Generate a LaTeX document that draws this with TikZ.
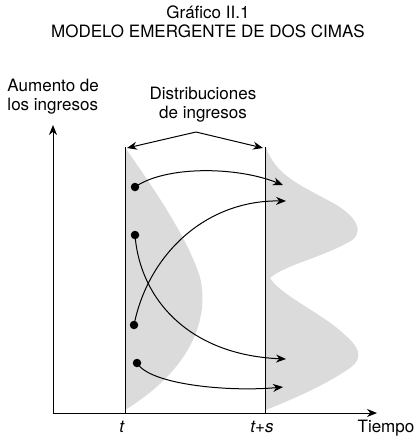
\documentclass[tikz,border=0pt]{standalone}
\usepackage{fontspec}
\setmainfont{TeX Gyre Heros}
\usetikzlibrary{arrows.meta,positioning}

\begin{document}
\begin{tikzpicture}[x=1pt, y=-1pt, >={Stealth[length=10pt,width=8pt]}, line width=1pt, font=\fontsize{17}{19}\selectfont]
	\tikzstyle{dot}=[circle, fill=black, inner sep=0pt, minimum size=8.5pt]
	\tikzstyle{lbl}=[inner sep=0pt, align=center]
	\useasboundingbox (0,0) rectangle (417,437);

	% income distributions
	\fill[gray!28] (125,147) .. controls (140,170) and (185,230) .. (200,277)
		.. controls (210,320) and (190,370) .. (125,410) -- cycle;
	\fill[gray!28] (266,147) .. controls (275,175) and (300,185) .. (333,203)
		.. controls (360,218) and (365,235) .. (347,243)
		.. controls (320,258) and (285,265) .. (270,278)
		.. controls (280,295) and (325,315) .. (345,335)
		.. controls (365,352) and (360,362) .. (347,370)
		.. controls (320,388) and (290,400) .. (266,410) -- cycle;

	% axes
	\coordinate (o) at (53,413);
	\draw[->] (o) -- (53,125);
	\draw[->] (o) -- (377,413);
	\draw (125,147) -- (125,413);
	\draw (265,147) -- (265,413);

	\node[lbl, align=left, anchor=west] (yl) at (7,97) {Aumento de\\los ingresos};
	\node[lbl] (tt) at (208,12) {Gráfico II.1};
	\node[lbl] (title) [below=5pt of tt] {MODELO EMERGENTE DE DOS CIMAS};
	\node[lbl] (dist) at (203,105) {Distribuciones\\de ingresos};
	\node[lbl] (t) at (122,427) {\textit{t}};
	\node[lbl] (ts) at (262,427) {\textit{t+s}};
	\node[lbl] (time) at (386,428) {Tiempo};

	\coordinate (apex) at (196,132);
	\coordinate (bl) at (127,148);
	\coordinate (br) at (263,148);
	\draw[->] (apex) -- (bl);
	\draw[->] (apex) -- (br);

	% individuals
	\node[dot] (d1) at (135,187) {};
	\node[dot] (d2) at (135,235) {};
	\node[dot] (d3) at (134,325) {};
	\node[dot] (d4) at (137,363) {};
	\coordinate (e1) at (283,185);
	\coordinate (e2) at (286,359);
	\coordinate (e3) at (286,201);
	\coordinate (e4) at (283,387);

	\draw[->] (d1.center) .. controls (165,166) and (235,166) .. (e1);
	\draw[->] (d2.center) .. controls (140,300) and (190,355) .. (e2);
	\draw[->] (d3.center) .. controls (148,255) and (205,200) .. (e3);
	\draw[->] (d4.center) .. controls (150,385) and (230,392) .. (e4);
\end{tikzpicture}
\end{document}
